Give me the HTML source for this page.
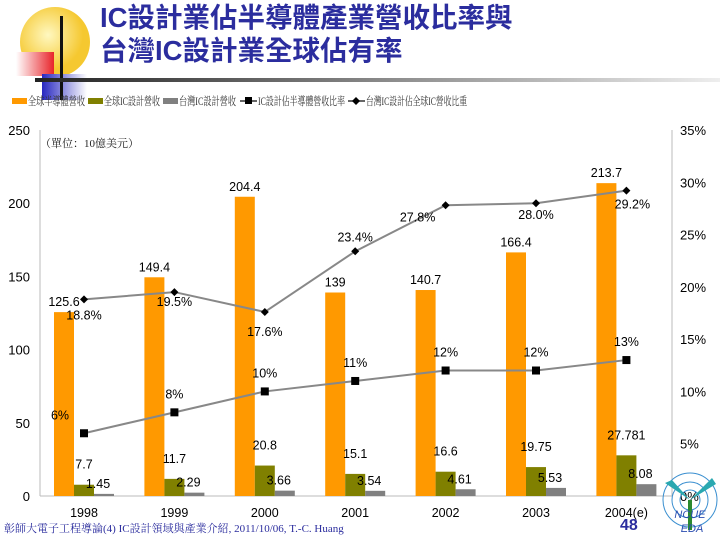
<!DOCTYPE html>
<html><head><meta charset="utf-8"><style>
body{margin:0;width:720px;height:540px;overflow:hidden;background:#fff;font-family:"Liberation Sans","Noto Sans CJK TC",sans-serif;position:relative}
.t{position:absolute;left:100px;font-size:27.5px;font-weight:bold;color:#2b2d9e;letter-spacing:0px;white-space:nowrap;line-height:30px}
</style></head><body>
<svg width="100" height="100" style="position:absolute;left:0;top:0">
<defs><radialGradient id="sun" cx="40%" cy="40%"><stop offset="0" stop-color="#fff8c0"/><stop offset="1" stop-color="#f5c830"/></radialGradient>
<linearGradient id="red" x1="0" x2="1"><stop offset="0" stop-color="#fff"/><stop offset="1" stop-color="#e8242a"/></linearGradient>
<linearGradient id="blu" x1="0" x2="1"><stop offset="0" stop-color="#2828c0"/><stop offset="1" stop-color="#fff"/></linearGradient></defs>
<circle cx="55" cy="42" r="35" fill="url(#sun)"/>
<rect x="16" y="52" width="38" height="24" fill="url(#red)"/>
<rect x="42" y="74" width="45" height="26" fill="url(#blu)"/>
<rect x="60" y="16" width="3" height="84" fill="#111"/>
<rect x="35" y="78" width="60" height="3" fill="#111"/>
</svg>
<div class="t" style="top:3px">IC設計業佔半導體產業營收比率與</div>
<div class="t" style="top:36px">台灣IC設計業全球佔有率</div>
<div style="position:absolute;left:35px;top:78px;width:685px;height:4px;background:linear-gradient(90deg,#222,#888 50%,#eee)"></div>
<svg id="c" width="720" height="540" style="position:absolute;left:0;top:0" font-family="Liberation Sans,Noto Sans CJK TC,sans-serif"></svg>
<div style="position:absolute;left:4px;top:520px;font-size:11px;color:#2b2d9e;font-family:'Liberation Serif','Noto Serif CJK SC',serif;white-space:nowrap">彰師大電子工程導論(4) IC設計領域與產業介紹, 2011/10/06, T.-C. Huang</div>
<div style="position:absolute;left:620px;top:517px;font-size:16px;font-weight:bold;color:#2b2d9e">48</div>
<script>
const categories=["1998","1999","2000","2001","2002","2003","2004(e)"];
const semiRevenue=[125.6,149.4,204.4,139,140.7,166.4,213.7];
const globalIC=[7.7,11.7,20.8,15.1,16.6,19.75,27.781];
const taiwanIC=[1.45,2.29,3.66,3.54,4.61,5.53,8.08];
const icShare=[6,8,10,11,12,12,13];
const twShare=[18.8,19.5,17.6,23.4,27.8,28.0,29.2];
const leftTicks=[0,50,100,150,200,250];
const rightTicks=[0,5,10,15,20,25,30,35];
const legendLabels=["全球半導體營收","全球IC設計營收","台灣IC設計營收","IC設計佔半導體營收比率","台灣IC設計佔全球IC營收比重"];
const svg=document.getElementById('c');const NS="http://www.w3.org/2000/svg";
function el(t,a,p){const e=document.createElementNS(NS,t);for(const k in a)e.setAttribute(k,a[k]);(p||svg).appendChild(e);return e;}
const y0=496,yTop=130;
const yL=v=>y0-v/250*(y0-yTop);
const yR=v=>y0-v/35*(y0-yTop);
const xC=i=>84+i*90.4;
const FS=12.5;
let e;
e=el('line',{x1:40,y1:yTop,x2:40,y2:y0,stroke:'#bbb'});
e=el('line',{x1:672,y1:yTop,x2:672,y2:y0,stroke:'#bbb'});
e=el('line',{x1:40,y1:y0,x2:672,y2:y0,stroke:'#bbb'});
leftTicks.forEach(v=>{const t=el('text',{x:30,y:yL(v)+5,'text-anchor':'end','font-size':13,fill:'#000'});t.textContent=v;});
rightTicks.forEach(v=>{const t=el('text',{x:680,y:yR(v)+5,'font-size':13,fill:'#000'});t.textContent=v+'%';});
e=el('text',{x:40,y:147,'font-size':11,fill:'#222','font-family':'Liberation Serif,Noto Serif CJK SC,serif'});e.textContent='（單位：10億美元）';
categories.forEach((c,i)=>{
const x=xC(i);
const t=el('text',{x:x,y:517,'text-anchor':'middle','font-size':FS,fill:'#000'});t.textContent=c;
[[semiRevenue,'#ff9900',-20,'bar-semi'],[globalIC,'#808000',0,'bar-global-ic'],[taiwanIC,'#808080',20,'bar-taiwan-ic']].forEach(s=>{
const v=s[0][i];const b=el('rect',{x:x+s[2]-10,y:yL(v),width:20,height:y0-yL(v),fill:s[1]});
const l=el('text',{x:x+s[2]-(s[2]==20?6:0),y:yL(v)-(s[2]==-20?6:(s[2]==0?16:6)),'text-anchor':'middle','font-size':FS,fill:'#000'});l.textContent=v;
});});
function line(vals,name,marker){
const p=el('polyline',{points:vals.map((v,i)=>xC(i)+','+yR(v)).join(' '),fill:'none',stroke:'#888','stroke-width':2});
vals.forEach((v,i)=>{const x=xC(i),y=yR(v);let m;
if(marker=='sq')m=el('rect',{x:x-4,y:y-4,width:8,height:8,fill:'#000'});else m=el('polygon',{points:`${x},${y-4} ${x+4},${y} ${x},${y+4} ${x-4},${y}`,fill:'#000'});
});}
line(icShare,'ic-share-line','sq');line(twShare,'taiwan-share-line','dm');
const icOff=[[-24,-14],[0,-14],[0,-14],[0,-14],[0,-14],[0,-14],[0,-14]];
icShare.forEach((v,i)=>{const t=el('text',{x:xC(i)+icOff[i][0],y:yR(v)+icOff[i][1],'text-anchor':'middle','font-size':FS});t.textContent=v+'%';});
const twOff=[[0,20],[0,14],[0,24],[0,-10],[-28,16],[0,16],[6,18]];
twShare.forEach((v,i)=>{const t=el('text',{x:xC(i)+twOff[i][0],y:yR(v)+twOff[i][1],'text-anchor':'middle','font-size':FS});t.textContent=v.toFixed(1)+'%';});
const lx=[12,88,163,240,348];
const lw=[57,56,57,87,101];
const lc=['#ff9900','#808000','#808080'];
legendLabels.forEach((s,i)=>{const x=lx[i];
if(i<3){e=el('rect',{x:x,y:98,width:15,height:6,fill:lc[i]});}else{e=el('line',{x1:x,y1:101,x2:x+17,y2:101,stroke:'#333','stroke-width':1.5});const m=i==3?el('rect',{x:x+5,y:97,width:7,height:7,fill:'#000'}):el('polygon',{points:`${x+8},97 ${x+12},101 ${x+8},105 ${x+4},101`,fill:'#000'});}

const t=el('text',{x:x+(i<3?16:18),y:105,'font-size':11.5,fill:'#333','font-family':'Liberation Serif,Noto Serif CJK SC,serif',textLength:lw[i],lengthAdjust:'spacingAndGlyphs'});t.textContent=s;});
const g=el('g',{});
[10,18,27].forEach(r=>el('circle',{cx:690,cy:500,r:r,fill:'none',stroke:'#3a8fd0','stroke-width':1},g));
el('polygon',{points:'690,500 665,483 672,480',fill:'#2aa8b0'},g);el('polygon',{points:'690,500 712,478 716,484',fill:'#2aa8b0'},g);
el('rect',{x:688,y:500,width:4,height:30,fill:'#2a8a30'},g);
const n1=el('text',{x:690,y:518,'text-anchor':'middle','font-size':11,'font-style':'italic',fill:'#2b4db0'},g);n1.textContent='NCUE';
const n2=el('text',{x:692,y:532,'text-anchor':'middle','font-size':11,'font-style':'italic',fill:'#2b4db0'},g);n2.textContent='EDA';
</script>
</body></html>
